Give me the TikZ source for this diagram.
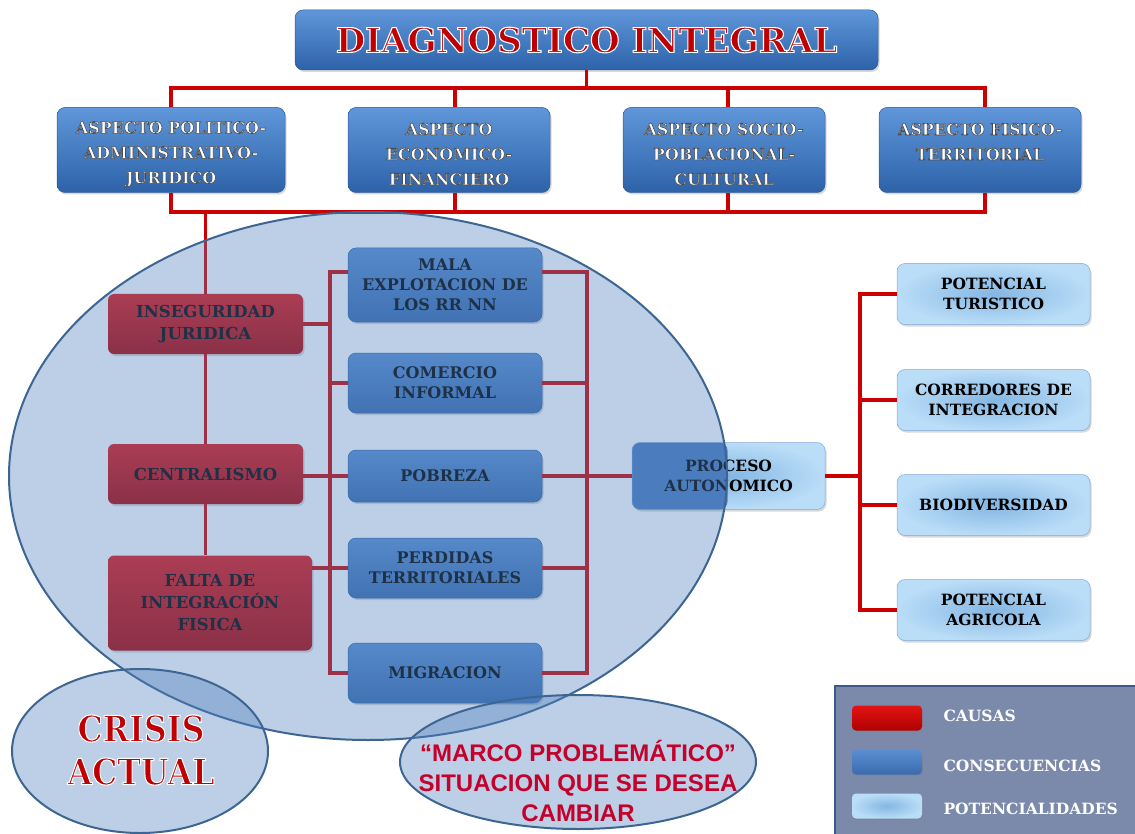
\documentclass[tikz,border=0pt]{standalone}
\usepackage{fontspec}
\setmainfont{DejaVu Serif}
\newfontfamily\sansb{Liberation Sans}
\usetikzlibrary{shadows,calc}
\definecolor{redline}{HTML}{CC0000}
\definecolor{asptop}{HTML}{5F97DA}
\definecolor{aspbot}{HTML}{2D62A8}
\definecolor{aspbd}{HTML}{2A5A9A}
\definecolor{constop}{HTML}{5B8FD2}
\definecolor{consbot}{HTML}{3A6AAE}
\definecolor{consbd}{HTML}{2F5E9E}
\definecolor{causetop}{HTML}{E31414}
\definecolor{causebot}{HTML}{B00000}
\definecolor{potin}{HTML}{84B6E2}
\definecolor{potout}{HTML}{BADDF8}
\definecolor{potbd}{HTML}{7FAAD6}
\definecolor{ovlc}{HTML}{4F81BD}
\definecolor{ellbd}{HTML}{3E6592}
\definecolor{legfill}{HTML}{7B8AAB}
\definecolor{legbd}{HTML}{3B5A8A}
\definecolor{titlered}{HTML}{C00000}
\definecolor{marcored}{HTML}{C4002B}
\tikzset{
 redl/.style={draw=redline, line width=3.2pt},
 bx/.style={rounded corners=8pt, align=center, inner sep=2pt,
   drop shadow={opacity=0.3,shadow xshift=1.5pt,shadow yshift=-2pt}},
 aspect/.style={bx, top color=asptop, bottom color=aspbot, draw=aspbd, line width=0.5pt,
   minimum width=202pt, minimum height=85pt, font=\fontsize{16}{25}\selectfont\bfseries},
 cause/.style={bx, rounded corners=6pt, top color=causetop, bottom color=causebot,
   minimum width=195pt, minimum height=60pt, font=\fontsize{16.5}{22}\selectfont\bfseries},
 cons/.style={bx, top color=constop, bottom color=consbot, draw=consbd, line width=0.5pt,
   minimum width=194pt, font=\fontsize{16}{20}\selectfont\bfseries},
 pot/.style={bx, inner color=potin, outer color=potout, draw=potbd, line width=0.5pt,
   minimum width=193pt, minimum height=61pt, font=\fontsize{15.5}{20}\selectfont\bfseries},
 ovl/.style={fill=ovlc, fill opacity=0.38, draw=ellbd, line width=2pt},
 swatch/.style={rounded corners=4pt, minimum width=70pt, minimum height=25pt, inner sep=0pt,
   drop shadow={opacity=0.35,shadow xshift=1pt,shadow yshift=-1.5pt}},
 leglab/.style={anchor=west, text=white, font=\fontsize{15.5}{17}\selectfont\bfseries},
}
\newcommand\asp[1]{{\color{white}\special{pdf:literal direct 2 Tr 0.6 w 0.3 0.3 0.3 RG}#1\special{pdf:literal direct 0 Tr 0 G 1 w}}}
\newcommand\redout[1]{{\color{titlered}\special{pdf:literal direct 2 Tr 1.1 w 1 1 1 RG}#1\special{pdf:literal direct 0 Tr 0 G 1 w}}}
\begin{document}
\begin{tikzpicture}[x=1pt,y=-1pt]
\useasboundingbox (0,0) rectangle (1135,834);
% title
\node[bx, top color=asptop, bottom color=aspbot, draw=aspbd, line width=0.5pt,
  minimum width=583pt, minimum height=60pt] (title) at (586.5,40)
  {\fontsize{34}{40}\selectfont\bfseries\redout{DIAGNOSTICO INTEGRAL}};
% aspects
\node[aspect, minimum width=228pt] (a1) at (171,150) {\mbox{}\\[-5pt]\asp{ASPECTO POLITICO-}\\\asp{ADMINISTRATIVO-}\\\asp{JURIDICO}};
\node[aspect] (a2) at (449,150) {\mbox{}\\[-5pt]\asp{ASPECTO}\\\asp{ECONOMICO-}\\\asp{FINANCIERO}};
\node[aspect] (a3) at (724,150) {\mbox{}\\[-5pt]\asp{ASPECTO SOCIO-}\\\asp{POBLACIONAL-}\\\asp{CULTURAL}};
\node[aspect] (a4) at (980,150) {\mbox{}\\[-5pt]\asp{ASPECTO FISICO-}\\\asp{TERRITORIAL}\\\mbox{}};
% causes
\node[cause] (c1) at (205.5,324) {INSEGURIDAD\\JURIDICA};
\node[cause] (c2) at (205.5,474) {CENTRALISMO};
\node[cause, minimum width=204pt, minimum height=95pt] (c3) at (210,603) {FALTA DE\\INTEGRACIÓN\\FISICA};
% consequences
\node[cons, minimum height=74pt] (k1) at (445,285) {MALA\\EXPLOTACION DE\\LOS RR NN};
\node[cons, minimum height=60pt] (k2) at (445,383) {COMERCIO\\INFORMAL};
\node[cons, minimum height=52pt] (k3) at (445,476) {POBREZA};
\node[cons, minimum height=60pt] (k4) at (445,568) {PERDIDAS\\TERRITORIALES};
\node[cons, minimum height=60pt] (k5) at (445,673) {MIGRACION};
% proceso
\node[pot, minimum height=67pt,
  path picture={\fill[constop!50!consbot] (path picture bounding box.north west) rectangle ([xshift=-1pt]path picture bounding box.south);}]
  (p) at (728.5,476) {PROCESO\\AUTONOMICO};
% potentials
\node[pot] (q1) at (993.5,294) {POTENCIAL\\TURISTICO};
\node[pot] (q2) at (993.5,400) {CORREDORES DE\\INTEGRACION};
\node[pot] (q3) at (993.5,505) {BIODIVERSIDAD};
\node[pot] (q4) at (993.5,610) {POTENCIAL\\AGRICOLA};
% connectors
\coordinate (t1) at (587,88);
\coordinate (b1) at (205,212);
\coordinate (lx) at (330,0);
\coordinate (rx) at (587,0);
\coordinate (px) at (860,0);
\draw[redl] (title.south) -- (title.south |- t1);
\draw[redl] (a1.north) |- (t1) -| ([xshift=5pt]a4.north);
\draw[redl] ([xshift=6pt]a2.north) -- ([xshift=6pt]a2.north |- t1);
\draw[redl] ([xshift=4pt]a3.north) -- ([xshift=4pt]a3.north |- t1);
\draw[redl] (a1.south) |- ([xshift=5pt]a4.south |- b1) -- ([xshift=5pt]a4.south);
\draw[redl] ([xshift=6pt]a2.south) -- ([xshift=6pt]a2.south |- b1);
\draw[redl] ([xshift=4pt]a3.south) -- ([xshift=4pt]a3.south |- b1);
\draw[redl] (c1.north) -- (c1.north |- b1);
\draw[redl] (c1.south) -- (c2.north);
\draw[redl] (c2.south) -- (c2.south |- c3.north);
\draw[redl] ([yshift=13pt]k1.west) -| (lx |- k5.west) -- (k5.west);
\draw[redl] (k2.west) -- (lx |- k2.west);
\draw[redl] (c1.east) -- (lx |- c1.east);
\draw[redl] (c2.east |- k3.west) -- (k3.west);
\draw[redl] (c3.east |- k4.west) -- (k4.west);
\draw[redl] ([yshift=13pt]k1.east) -| (rx |- k5.east) -- (k5.east);
\draw[redl] (k2.east) -- (rx |- k2.east);
\draw[redl] (k4.east) -- (rx |- k4.east);
\draw[redl] (k3.east) -- (p.west);
\draw[redl] (p.east) -- (px |- p.east);
\draw[redl] (q1.west) -| (px |- q4.west) -- (q4.west);
\draw[redl] (q2.west) -- (px |- q2.west);
\draw[redl] (q3.west) -- (px |- q3.west);
% overlay ellipses
\draw[ovl] (368,476) ellipse [x radius=359, y radius=264];
\draw[ovl] (140,751) ellipse [x radius=128, y radius=82];
\draw[ovl] (578,762) ellipse [x radius=178, y radius=67];
\node[align=center, font=\fontsize{36}{43}\selectfont\bfseries] (crisis) at (141,750)
  {\scalebox{0.88}[1]{\redout{CRISIS}}\\\scalebox{0.88}[1]{\redout{ACTUAL}}};
\node[align=center, font=\sansb\fontsize{24}{30}\selectfont\bfseries, text=marcored] (marco) at (578,781)
  {“MARCO PROBLEMÁTICO”\\SITUACION QUE SE DESEA\\CAMBIAR};
% legend
\draw[fill=legfill, draw=legbd, line width=1.5pt] (835,686) rectangle (1145,845);
\node[swatch, top color=causetop, bottom color=causebot] (s1) at (887,718) {};
\node[swatch, top color=constop, bottom color=consbot] (s2) at (887,762) {};
\node[swatch, inner color=potin, outer color=potout] (s3) at (887,806) {};
\node[leglab] (l1) at (940,716) {CAUSAS};
\node[leglab] (l2) at (940,766) {CONSECUENCIAS};
\node[leglab] (l3) at (940,809) {POTENCIALIDADES};
\end{tikzpicture}
\end{document}
